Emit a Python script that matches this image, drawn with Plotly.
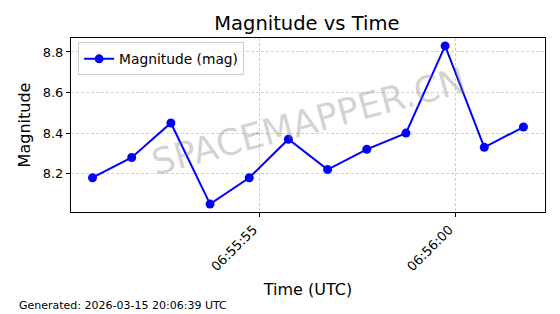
import plotly.graph_objects as go

times = [
    "2026-03-15 06:55:50.74", "2026-03-15 06:55:51.74", "2026-03-15 06:55:52.74",
    "2026-03-15 06:55:53.74", "2026-03-15 06:55:54.74", "2026-03-15 06:55:55.74",
    "2026-03-15 06:55:56.74", "2026-03-15 06:55:57.74", "2026-03-15 06:55:58.74",
    "2026-03-15 06:55:59.74", "2026-03-15 06:56:00.74", "2026-03-15 06:56:01.74",
]
magnitude = [8.18, 8.28, 8.45, 8.05, 8.18, 8.37, 8.22, 8.32, 8.40, 8.83, 8.33, 8.43]
tick_vals = ["2026-03-15 06:55:55", "2026-03-15 06:56:00"]
tick_text = ["06:55:55", "06:56:00"]
x_range = ["2026-03-15 06:55:50.19", "2026-03-15 06:56:02.29"]
y_range = [8.011, 8.869]
y_ticks = [8.2, 8.4, 8.6, 8.8]

FONT = "DejaVu Sans"

fig = go.Figure()
fig.add_trace(go.Scatter(
    x=times, y=magnitude, mode="lines+markers", name="Magnitude (mag)",
    line=dict(color="#0000ff", width=2),
    marker=dict(color="#0000ff", size=9),
))

axis_common = dict(
    showline=True, linecolor="black", linewidth=1, mirror=True,
    ticks="outside", ticklen=4, tickcolor="black", tickwidth=1,
    showgrid=True, gridcolor="#d0d0d0", griddash="3px,2px", gridwidth=1,
    zeroline=False, tickfont=dict(family=FONT, size=13, color="black"),
)

fig.update_xaxes(
    type="date", range=x_range, tickvals=tick_vals, ticktext=tick_text,
    tickangle=-45, ticklabelshift=-6,
    title=dict(text="Time (UTC)", font=dict(family=FONT, size=16, color="black"), standoff=10),
    **axis_common,
)
fig.update_yaxes(
    range=y_range, tickvals=y_ticks, ticktext=["8.2", "8.4", "8.6", "8.8"],
    title=dict(text="Magnitude", font=dict(family=FONT, size=16, color="black"), standoff=8),
    **axis_common,
)

fig.update_layout(
    width=560, height=314,
    margin=dict(l=71, r=15, t=38, b=102),
    paper_bgcolor="white", plot_bgcolor="white",
    font=dict(family=FONT, color="black"),
    title=dict(text="Magnitude vs Time", x=0.548, xanchor="center", y=0.927, yanchor="middle",
               font=dict(family=FONT, size=19.5, color="black")),
    showlegend=True,
    legend=dict(x=0.015, y=0.975, xanchor="left", yanchor="top",
                bgcolor="rgba(255,255,255,0.8)", bordercolor="#cccccc", borderwidth=1,
                font=dict(family=FONT, size=13.8, color="black"), itemwidth=30,
                tracegroupgap=0),
    annotations=[
        dict(text="SPACEMAPPER.CN", x=0.5, y=0.52, xref="paper", yref="paper",
             showarrow=False, textangle=-15,
             font=dict(family=FONT, size=36, color="rgba(128,128,128,0.35)")),
        dict(text="Generated: 2026-03-15 20:06:39 UTC", x=(17 - 71) / 474,
             y=-(305 - 212) / 174, xref="paper", yref="paper",
             xanchor="left", yanchor="middle",
             showarrow=False, font=dict(family=FONT, size=11, color="black")),
    ],
)

fig.write_html("out.html")
